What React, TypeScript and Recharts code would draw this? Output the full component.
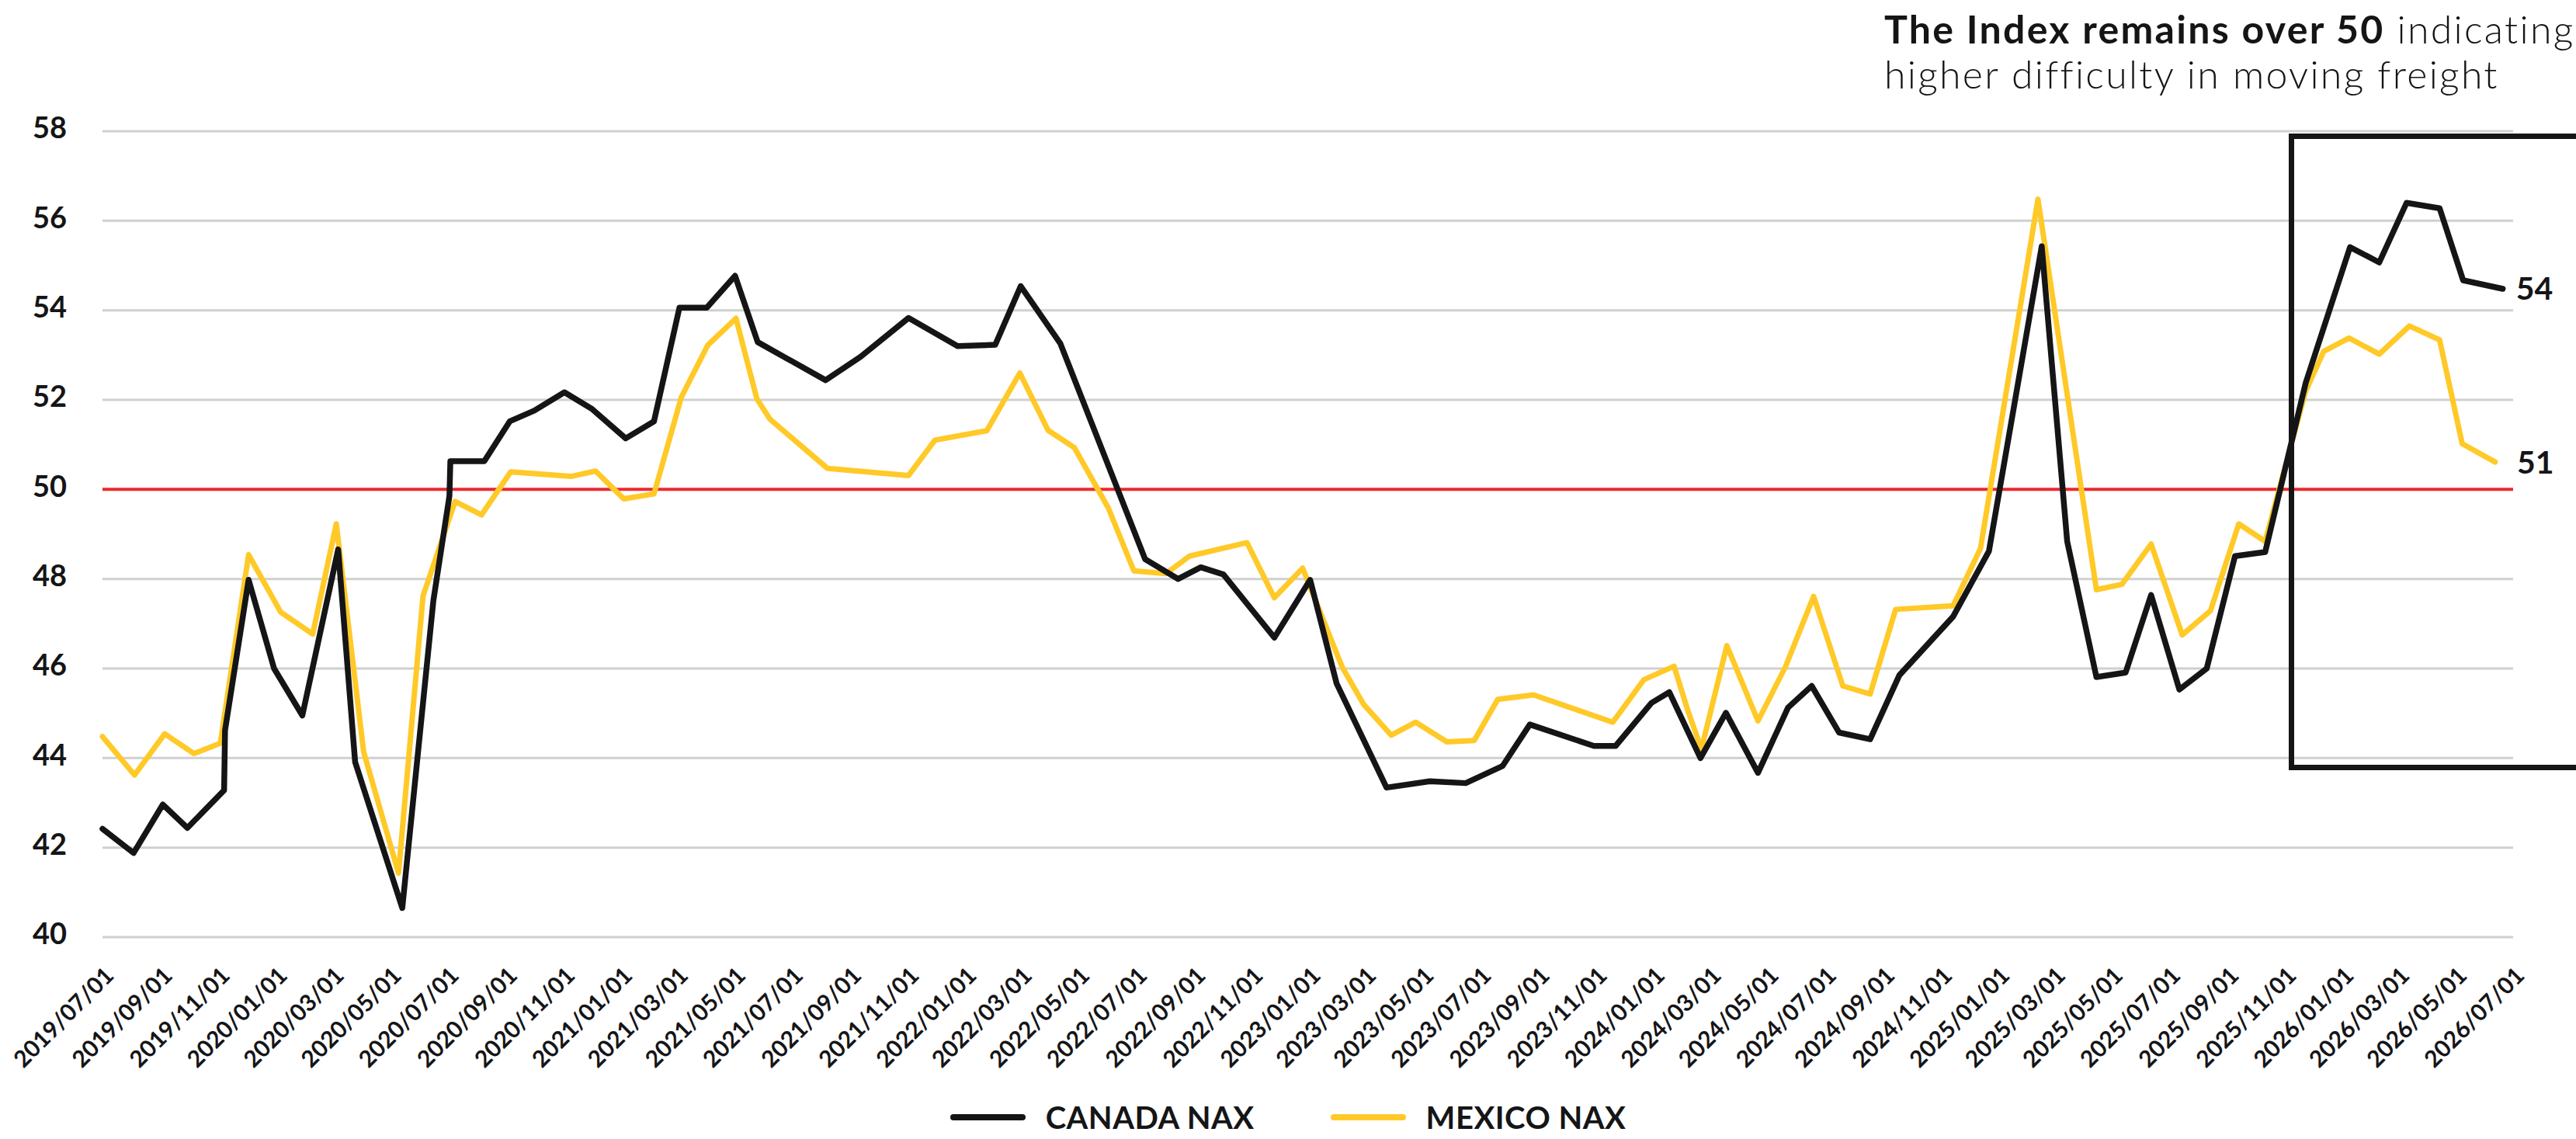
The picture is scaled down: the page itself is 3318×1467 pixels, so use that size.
import React from "react";
import { LineChart, Line, XAxis, YAxis, CartesianGrid, ReferenceLine, Legend } from "recharts";

// ---------- DATA ----------
const tickLabels = [
  "2019/07/01","2019/09/01","2019/11/01","2020/01/01","2020/03/01","2020/05/01","2020/07/01","2020/09/01","2020/11/01",
  "2021/01/01","2021/03/01","2021/05/01","2021/07/01","2021/09/01","2021/11/01",
  "2022/01/01","2022/03/01","2022/05/01","2022/07/01","2022/09/01","2022/11/01",
  "2023/01/01","2023/03/01","2023/05/01","2023/07/01","2023/09/01","2023/11/01",
  "2024/01/01","2024/03/01","2024/05/01","2024/07/01","2024/09/01","2024/11/01",
  "2025/01/01","2025/03/01","2025/05/01","2025/07/01","2025/09/01","2025/11/01",
  "2026/01/01","2026/03/01","2026/05/01","2026/07/01",
];

const yTicks = [40, 42, 44, 46, 48, 50, 52, 54, 56, 58];

const canadaDates = [
  "2019/07/01","2019/08/03","2019/09/03","2019/09/29","2019/11/07","2019/11/08","2019/12/03","2019/12/30",
  "2020/01/29","2020/03/07","2020/03/25","2020/05/14","2020/06/16","2020/07/03","2020/07/04","2020/08/09",
  "2020/09/05","2020/10/01","2020/11/02","2020/12/01","2021/01/06","2021/02/05","2021/03/04","2021/04/02",
  "2021/05/02","2021/05/26","2021/08/06","2021/09/12","2021/11/02","2021/12/24","2022/02/02","2022/03/01",
  "2022/04/12","2022/07/11","2022/08/15","2022/09/08","2022/10/02","2022/11/25","2023/01/02","2023/01/30",
  "2023/03/24","2023/05/09","2023/06/16","2023/07/25","2023/08/23","2023/10/30","2023/11/22","2023/12/30",
  "2024/01/18","2024/02/20","2024/03/18","2024/04/21","2024/05/23","2024/06/17","2024/07/16","2024/08/18",
  "2024/09/18","2024/11/14","2024/12/22","2025/02/16","2025/03/15","2025/04/15","2025/05/16","2025/06/12",
  "2025/07/12","2025/08/10","2025/09/09","2025/10/11","2025/11/23","2026/01/09","2026/02/09","2026/03/10",
  "2026/04/14","2026/05/09","2026/06/20",
];
const canadaValues = [
  42.42, 41.88, 42.96, 42.44, 43.28, 44.62, 47.98, 46.0,
  44.95, 48.66, 43.91, 40.65, 47.52, 49.85, 50.63, 50.63,
  51.52, 51.76, 52.17, 51.8, 51.14, 51.52, 54.06, 54.06,
  54.77, 53.29, 52.44, 52.96, 53.83, 53.2, 53.23, 54.54,
  53.26, 48.44, 48.0, 48.26, 48.1, 46.69, 47.98, 45.67,
  43.34, 43.48, 43.44, 43.82, 44.75, 44.27, 44.27, 45.23,
  45.47, 44.0, 45.01, 43.67, 45.13, 45.61, 44.57, 44.42,
  45.85, 47.16, 48.62, 55.43, 48.84, 45.81, 45.91, 47.64,
  45.53, 46.0, 48.51, 48.6, 52.38, 55.41, 55.07, 56.4,
  56.28, 54.67, 54.48,
];

const mexicoDates = [
  "2019/07/01","2019/08/04","2019/09/05","2019/10/06","2019/11/03","2019/12/03","2020/01/06","2020/02/09",
  "2020/03/05","2020/04/03","2020/05/10","2020/06/05","2020/07/09","2020/08/06","2020/09/06","2020/11/09",
  "2020/12/05","2021/01/04","2021/02/05","2021/03/06","2021/04/03","2021/05/03","2021/05/25","2021/06/08",
  "2021/08/08","2021/11/02","2021/11/30","2022/01/24","2022/02/28","2022/03/30","2022/04/27","2022/06/02",
  "2022/06/29","2022/08/02","2022/08/27","2022/10/27","2022/11/25","2022/12/25","2023/02/05","2023/02/28",
  "2023/03/29","2023/04/24","2023/05/27","2023/06/25","2023/07/20","2023/08/27","2023/11/19","2023/12/22",
  "2024/01/23","2024/02/06","2024/02/21","2024/03/19","2024/04/21","2024/05/20","2024/06/19","2024/07/20",
  "2024/08/18","2024/09/14","2024/11/14","2024/12/13","2025/02/12","2025/04/15","2025/05/12","2025/06/12",
  "2025/07/15","2025/08/14","2025/09/13","2025/10/11","2025/11/23","2025/12/12","2026/01/08","2026/02/09",
  "2026/03/13","2026/04/14","2026/05/08","2026/06/12",
];
const mexicoValues = [
  44.48, 43.62, 44.54, 44.1, 44.33, 48.54, 47.26, 46.77,
  49.23, 44.14, 41.43, 47.62, 49.73, 49.43, 50.39, 50.29,
  50.41, 49.79, 49.9, 52.06, 53.22, 53.82, 52.03, 51.57,
  50.47, 50.31, 51.1, 51.31, 52.6, 51.32, 50.93, 49.58,
  48.18, 48.12, 48.51, 48.81, 47.58, 48.24, 46.03, 45.19,
  44.51, 44.8, 44.36, 44.39, 45.31, 45.41, 44.8, 45.75,
  46.05, 45.1, 44.2, 46.51, 44.83, 46.03, 47.61, 45.61,
  45.43, 47.32, 47.4, 48.68, 56.48, 47.76, 47.88, 48.78,
  46.75, 47.29, 49.23, 48.84, 52.2, 53.08, 53.38, 53.02,
  53.65, 53.34, 51.02, 50.61,
];

const seriesNames = ["CANADA NAX", "MEXICO NAX"];
const thresholdValue = 50;
const titleBold = "The Index remains over 50";
const titleRest = " indicating";
const titleLine2 = "higher difficulty in moving freight";

// ---------- HELPERS ----------
const toTime = (s: string) => {
  const [y, m, d] = s.split("/").map(Number);
  return Date.UTC(y, m - 1, d);
};
const tickTimes = tickLabels.map(toTime);
const canadaData = canadaDates.map((d, i) => ({ t: toTime(d), v: canadaValues[i] }));
const mexicoData = mexicoDates.map((d, i) => ({ t: toTime(d), v: mexicoValues[i] }));

const BLACK = "#151517";
const YELLOW = "#FFC928";
const RED = "#EC2A2E";
const GRID = "#D0D0D0";
const FONT = "Lato, 'Liberation Sans', sans-serif";

const XTick = (props: any) => {
  const { x, y, payload } = props;
  const idx = tickTimes.indexOf(payload.value);
  const label = idx >= 0 ? tickLabels[idx] : "";
  return (
    <g transform={`translate(${x + 9},${y + 44})`}>
      <text
        x={0}
        y={0}
        dy="0.35em"
        textAnchor="end"
        transform="rotate(-45)"
        fontFamily={FONT}
        fontWeight={700}
        fontSize={30}
        fill={BLACK}
      >
        {label}
      </text>
    </g>
  );
};

const YTick = (props: any) => {
  const { x, y, payload } = props;
  return (
    <text
      x={x}
      y={y - 4}
      dy="0.35em"
      textAnchor="end"
      fontFamily={FONT}
      fontWeight={700}
      fontSize={38}
      fill={BLACK}
    >
      {payload.value}
    </text>
  );
};

const makeEndLabel = (count: number, offset: number) => (props: any) => {
  const { x, y, index, value } = props;
  if (index !== count - 1) return null;
  return (
    <text
      x={x + offset}
      y={y}
      dy="0.35em"
      textAnchor="start"
      fontFamily={FONT}
      fontWeight={700}
      fontSize={41}
      fill={BLACK}
    >
      {Math.round(Number(value))}
    </text>
  );
};

const renderLegend = (props: any) => {
  const payload = [...(props.payload || [])].sort(
    (a: any, b: any) => seriesNames.indexOf(a.value) - seriesNames.indexOf(b.value)
  );
  return (
    <div style={{ display: "flex", justifyContent: "center", alignItems: "center", width: "100%", height: 38 }}>
      {payload.map((p: any, i: number) => (
        <div
          key={p.value}
          style={{ display: "flex", alignItems: "center", marginLeft: i === 0 ? 0 : 98 }}
        >
          <svg width={97} height={12} style={{ display: "block" }}>
            <line x1={4} y1={6} x2={93} y2={6} stroke={p.color} strokeWidth={8} strokeLinecap="round" />
          </svg>
          <span
            style={{
              marginLeft: 26,
              fontFamily: FONT,
              fontWeight: 700,
              fontSize: 40,
              lineHeight: "38px",
              color: BLACK,
              letterSpacing: 0.5,
            }}
          >
            {p.value}
          </span>
        </div>
      ))}
    </div>
  );
};

export default function App() {
  const W = 3318;
  const H = 1467;
  return (
    <div
      style={{
        position: "absolute",
        left: 0,
        top: 0,
        width: W,
        height: H,
        overflow: "hidden",
        background: "#ffffff",
      }}
    >
      <LineChart width={W} height={H} margin={{ top: 169, right: 81, bottom: 0, left: 0 }}>
        <CartesianGrid vertical={false} stroke={GRID} strokeWidth={3} />
        <XAxis
          type="number"
          dataKey="t"
          domain={[tickTimes[0], tickTimes[tickTimes.length - 1]]}
          ticks={tickTimes}
          interval={0}
          axisLine={false}
          tickLine={false}
          tickSize={0}
          tickMargin={0}
          height={260}
          tick={<XTick />}
        />
        <YAxis
          type="number"
          domain={[40, 58]}
          ticks={yTicks}
          interval={0}
          axisLine={false}
          tickLine={false}
          tickSize={0}
          tickMargin={46}
          width={132}
          tick={<YTick />}
        />
        <ReferenceLine y={thresholdValue} stroke={RED} strokeWidth={4} />
        <Line
          data={mexicoData}
          dataKey="v"
          name={seriesNames[1]}
          type="linear"
          stroke={YELLOW}
          strokeWidth={7}
          strokeLinejoin="round"
          strokeLinecap="round"
          dot={false}
          activeDot={false}
          isAnimationActive={false}
          label={makeEndLabel(mexicoData.length, 28)}
        />
        <Line
          data={canadaData}
          dataKey="v"
          name={seriesNames[0]}
          type="linear"
          stroke={BLACK}
          strokeWidth={7.5}
          strokeLinejoin="round"
          strokeLinecap="round"
          dot={false}
          activeDot={false}
          isAnimationActive={false}
          label={makeEndLabel(canadaData.length, 17)}
        />
        <Legend
          layout="horizontal"
          verticalAlign="middle"
          align="center"
          content={renderLegend}
          wrapperStyle={{ top: 1420, left: 0, width: W, height: 38 }}
        />
      </LineChart>

      <div
        style={{
          position: "absolute",
          left: 2427,
          top: 8,
          fontFamily: FONT,
          fontSize: 50,
          lineHeight: "58px",
          letterSpacing: 2.3,
          color: BLACK,
          whiteSpace: "nowrap",
        }}
      >
        <div>
          <span style={{ fontWeight: 700 }}>{titleBold}</span>
          <span style={{ fontWeight: 300 }}>{titleRest}</span>
        </div>
        <div style={{ fontWeight: 300 }}>{titleLine2}</div>
      </div>

      <div
        style={{
          position: "absolute",
          left: 2948,
          top: 172,
          width: 520,
          height: 820,
          boxSizing: "border-box",
          border: `7px solid ${BLACK}`,
        }}
      />
    </div>
  );
}
